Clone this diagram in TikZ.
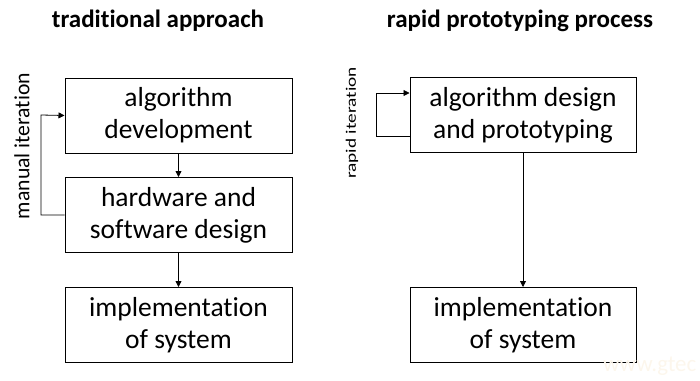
\documentclass[tikz,border=0pt]{standalone}
\usepackage{fontspec}
\setmainfont{Carlito}[Ligatures=NoCommon]
\usetikzlibrary{arrows.meta}
\definecolor{markfaint}{RGB}{252,246,236}
\begin{document}
\begin{tikzpicture}[x=1pt,y=-1pt,
  box/.style={draw, line width=1pt, minimum width=227pt, minimum height=75pt,
    align=center, font=\fontsize{27.5}{32}\selectfont, inner sep=0pt},
  title/.style={font=\fontsize{25}{30}\selectfont\bfseries},
  side/.style={rotate=90, font=\fontsize{21.7}{26}\selectfont},
  flow/.style={draw, line width=0.8pt, -{Triangle[length=6pt,width=6pt]}}]
\useasboundingbox (0,0) rectangle (700,380);
% headings
\node[title] (t1) at (158,21) {traditional approach};
\node[title] (t2) at (520,21) {rapid prototyping process};
% traditional flow
\node[box] (a1) at (178.5,115.5) {algorithm\\development};
\node[box] (a2) at (178.5,215) {hardware and\\software design};
\node[box] (a3) at (178.5,325) {implementation\\of system};
\draw[flow] (a1) -- (a2);
\draw[flow] (a2) -- (a3);
\coordinate (m1) at (41,215);
\coordinate (m2) at (41,115);
\draw[flow] (a2.west) -- (m1) -- (m2) -- (a1.west);
\node[side] (ml) at (22,146) {manual iteration};
% rapid prototyping flow
\node[box, minimum width=226pt] (b1) at (523,115) {algorithm design\\and prototyping};
\node[box, minimum width=226pt] (b2) at (523,325) {implementation\\of system};
\draw[flow] (b1) -- (b2);
\coordinate (r1) at (376,136);
\coordinate (r2) at (376,93);
\draw[flow] (b1.west |- r1) -- (r1) -- (r2) -- (b1.west |- r2);
\node[side, font=\fontsize{14.5}{17}\selectfont, xscale=1.33] (rl) at (352,123) {rapid iteration};
% faint site mark
\node[font=\fontsize{23}{27}\selectfont, text=markfaint, anchor=west, inner sep=0pt] (wm) at (603,366) {www.gtec};
\end{tikzpicture}
\end{document}
